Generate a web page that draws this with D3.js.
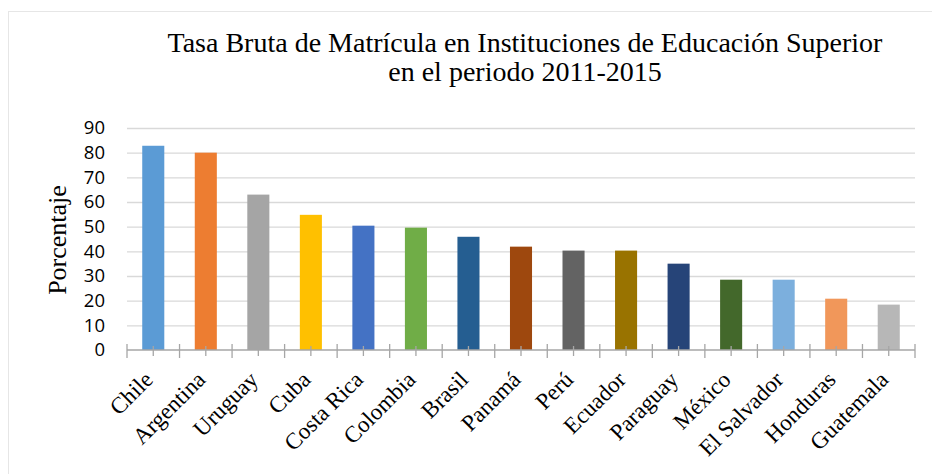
<!DOCTYPE html>
<html>
<head>
<meta charset="utf-8">
<script src="https://cdn.jsdelivr.net/npm/d3@7"></script>
<style>
  body { margin: 0; background: #fff; }
  .grid line { stroke: #d9d9d9; stroke-width: 1.3; }
  .grid .domain { display: none; }
  .serif { font-family: "Liberation Serif", "Times New Roman", Times, "DejaVu Serif", serif; }
</style>
</head>
<body>
<script>
// Chart data
var countries = ["Chile", "Argentina", "Uruguay", "Cuba", "Costa Rica", "Colombia", "Brasil",
  "Panamá", "Perú", "Ecuador", "Paraguay", "México", "El Salvador", "Honduras", "Guatemala"];
var rates = [82.8, 80, 63, 54.8, 50.4, 49.6, 45.9, 41.9, 40.3, 40.3, 35, 28.5, 28.5, 20.8, 18.4];
var barColors = ["#5b9bd5", "#ed7d31", "#a5a5a5", "#ffc000", "#4472c4", "#70ad47", "#255e91",
  "#9e480e", "#636363", "#997300", "#264478", "#43682b", "#7cafdd", "#f1975a", "#b7b7b7"];
var yTicks = [0, 10, 20, 30, 40, 50, 60, 70, 80, 90];
var titleLines = ["Tasa Bruta de Matrícula en Instituciones de Educación Superior", "en el periodo 2011-2015"];

var svgWidth = 932;
var svgHeight = 474;

var margin = { top: 128, right: 17, bottom: 124, left: 127 };
var chartWidth = svgWidth - margin.left - margin.right;
var chartHeight = svgHeight - margin.top - margin.bottom;

var svg = d3.select("body")
  .append("svg")
  .attr("width", svgWidth)
  .attr("height", svgHeight);

// light chart border (only top and left visible in the picture)
svg.append("rect")
  .attr("x", 8.5)
  .attr("y", 11.5)
  .attr("width", 940)
  .attr("height", 480)
  .attr("fill", "none")
  .attr("stroke", "#e6e6e6");

// Title
svg.append("text")
  .classed("serif", true)
  .attr("text-anchor", "middle")
  .attr("font-size", 28)
  .attr("fill", "#000")
  .selectAll("tspan")
  .data(titleLines)
  .enter()
  .append("tspan")
  .attr("x", 525)
  .attr("y", (d, i) => 52 + i * 29)
  .text(d => d);

var chartGroup = svg.append("g")
  .attr("transform", `translate(${margin.left}, ${margin.top})`);

var xBandScale = d3.scaleBand()
  .range([0, chartWidth])
  .domain(countries)
  .paddingInner(0.58)
  .paddingOuter(0.29);

var yLinearScale = d3.scaleLinear()
  .range([chartHeight, 0])
  .domain([0, 90]);

// Gridlines
chartGroup.append("g")
  .classed("grid", true)
  .call(d3.axisLeft(yLinearScale).tickValues(yTicks.slice(1)).tickSize(-chartWidth).tickFormat(""));

// Bars
chartGroup.selectAll(".bar")
  .data(countries)
  .enter()
  .append("rect")
  .classed("bar", true)
  .attr("x", d => xBandScale(d))
  .attr("width", xBandScale.bandwidth())
  .attr("y", (d, i) => yLinearScale(rates[i]))
  .attr("height", (d, i) => chartHeight - yLinearScale(rates[i]))
  .attr("fill", (d, i) => barColors[i]);

// Y axis labels
var leftAxis = d3.axisLeft(yLinearScale).tickValues(yTicks).tickSize(0).tickPadding(22);
var yAxisG = chartGroup.append("g").call(leftAxis);
yAxisG.select(".domain").remove();
yAxisG.attr("font-family", "Open Sans, sans-serif").attr("font-size", 18.5);
yAxisG.selectAll("text").attr("fill", "#000");

// Category axis: line plus boundary and centre ticks
var step = xBandScale.step();
var boundaries = d3.range(countries.length + 1).map(i => i * step);
var xAxisG = chartGroup.append("g")
  .attr("transform", "translate(0, " + chartHeight + ")");
xAxisG.append("line")
  .attr("x1", 0).attr("x2", chartWidth)
  .attr("stroke", "#a6a6a6").attr("stroke-width", 1.3);
xAxisG.selectAll(".btick")
  .data(boundaries)
  .enter()
  .append("line")
  .attr("x1", d => d).attr("x2", d => d)
  .attr("y1", -6).attr("y2", 8)
  .attr("stroke", "#a6a6a6").attr("stroke-width", 1.3);
xAxisG.selectAll(".ctick")
  .data(countries)
  .enter()
  .append("line")
  .attr("x1", d => xBandScale(d) + xBandScale.bandwidth() / 2)
  .attr("x2", d => xBandScale(d) + xBandScale.bandwidth() / 2)
  .attr("y1", -4).attr("y2", 6)
  .attr("stroke", "#a6a6a6").attr("stroke-width", 1.3);

xAxisG.selectAll(".xlabel")
  .data(countries)
  .enter()
  .append("text")
  .classed("serif", true)
  .attr("text-anchor", "end")
  .attr("transform", d => `translate(${xBandScale(d) + xBandScale.bandwidth() / 2 + 1}, 31) rotate(-45)`)
  .attr("font-size", 23)
  .attr("fill", "#000")
  .text(d => d);

// Y axis title
svg.append("text")
  .classed("serif", true)
  .attr("transform", "translate(66, 240) rotate(-90)")
  .attr("text-anchor", "middle")
  .attr("font-size", 26)
  .attr("fill", "#000")
  .text("Porcentaje");
</script>
</body>
</html>
